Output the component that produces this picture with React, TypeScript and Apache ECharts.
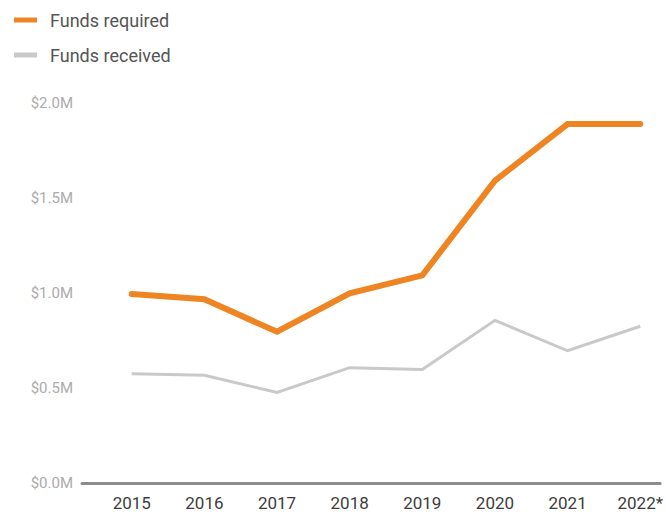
import React, { useEffect, useRef } from "react";
import * as echarts from "echarts";

const years = ["2015", "2016", "2017", "2018", "2019", "2020", "2021", "2022*"];
const fundsRequired = [0.995, 0.967, 0.796, 0.998, 1.093, 1.591, 1.889, 1.889];
const fundsReceived = [0.575, 0.567, 0.477, 0.607, 0.598, 0.856, 0.696, 0.825];
const yTicks = [0, 0.5, 1.0, 1.5, 2.0];

export default function App() {
  const ref = useRef<HTMLDivElement>(null);
  useEffect(() => {
    const chart = echarts.init(ref.current!, null, { renderer: "svg" });
    const font = "Roboto";
    chart.setOption({
      animation: false,
      backgroundColor: "#ffffff",
      legend: {
        orient: "vertical",
        left: 9,
        top: 4,
        itemWidth: 23,
        itemHeight: 5,
        itemGap: 13,
        icon: "rect",
        textStyle: {
          fontFamily: font,
          fontSize: 18,
          color: "#555555",
          lineHeight: 22,
          padding: [0, 0, 0, 8],
        },
        data: [
          { name: "Funds required", itemStyle: { color: "#EE8522" } },
          { name: "Funds received", itemStyle: { color: "#C9C9C9" } },
        ],
      },
      grid: { left: 82, right: 3, top: 103, bottom: 31, containLabel: false },
      xAxis: {
        type: "value",
        min: -0.685,
        max: 7.274,
        splitLine: { show: false },
        axisTick: { show: false },
        axisLine: { show: true, lineStyle: { color: "#8c8c8c", width: 3 } },
        axisLabel: {
          customValues: years.map((_, i) => i),
          formatter: (v: number) => years[Math.round(v)] ?? "",
          fontFamily: font,
          fontSize: 17,
          color: "#3d3d3d",
          margin: 11,
          showMinLabel: true,
          showMaxLabel: true,
        },
      },
      yAxis: {
        type: "value",
        min: 0,
        max: 2.0,
        splitLine: { show: false },
        axisLine: { show: false },
        axisTick: { show: false },
        axisLabel: {
          customValues: yTicks,
          formatter: (v: number) => "$" + v.toFixed(1) + "M",
          fontFamily: font,
          fontSize: 15,
          color: "#ababab",
          margin: 9,
        },
      },
      series: [
        {
          name: "Funds received",
          type: "line",
          data: fundsReceived.map((v, i) => [i, v]),
          showSymbol: false,
          symbol: "none",
          lineStyle: { color: "#C9C9C9", width: 3, join: "miter" },
          itemStyle: { color: "#C9C9C9" },
          z: 2,
        },
        {
          name: "Funds required",
          type: "line",
          data: fundsRequired.map((v, i) => [i, v]),
          showSymbol: false,
          symbol: "none",
          lineStyle: { color: "#EE8522", width: 6, cap: "round", join: "miter" },
          itemStyle: { color: "#EE8522" },
          z: 3,
        },
      ],
    });
    return () => chart.dispose();
  }, []);
  return (
    <div
      ref={ref}
      style={{ position: "fixed", left: 0, top: 0, width: 666, height: 514 }}
    />
  );
}
